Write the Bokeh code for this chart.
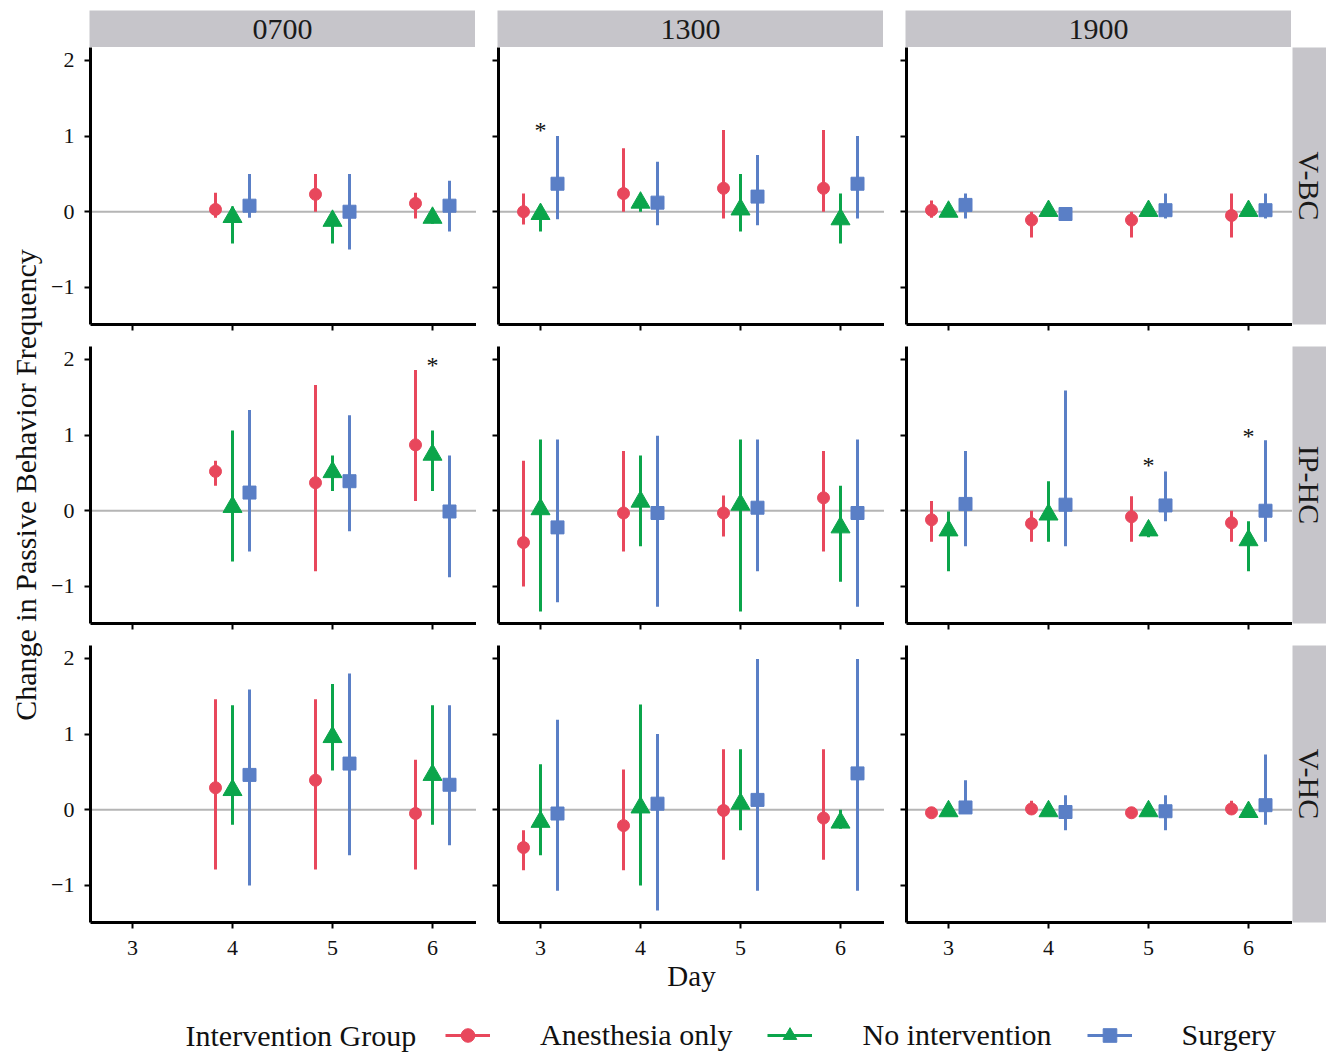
import math
from bokeh.plotting import figure
from bokeh.layouts import column, row
from bokeh.models import Span, FixedTicker, Legend, LegendItem
from bokeh.embed import file_html
from bokeh.resources import INLINE
from bokeh.core.properties import value

# ---------------- data ----------------
TIMES = ["0700", "1300", "1900"]
REGIONS = ["V-BC", "IP-HC", "V-HC"]
GROUPS = ["Anesthesia only", "No intervention", "Surgery"]
X_TICKS = [3, 4, 5, 6]
Y_TICKS = [-1, 0, 1, 2]
Y_TITLE = "Change in Passive Behavior Frequency"
X_TITLE = "Day"
LEGEND_TITLE = "Intervention Group"

# key of each record: region / time / day
region = ["V-BC"] * 11 + ["IP-HC"] * 11 + ["V-HC"] * 11
time = (["0700"] * 3 + ["1300"] * 4 + ["1900"] * 4) * 3
day = ([4, 5, 6] + [3, 4, 5, 6] + [3, 4, 5, 6]) * 3

anes_mean = [0.03, 0.23, 0.11, 0.00, 0.24, 0.31, 0.31, 0.02, -0.11, -0.11, -0.05,
             0.52, 0.37, 0.87, -0.42, -0.03, -0.03, 0.17, -0.12, -0.17, -0.08, -0.16,
             0.29, 0.39, -0.05, -0.50, -0.21, -0.01, -0.11, -0.04, 0.01, -0.04, 0.01]
anes_lo = [-0.08, 0.00, -0.09, -0.17, 0.00, -0.09, 0.00, -0.08, -0.34, -0.34, -0.34,
           0.33, -0.80, 0.13, -1.00, -0.54, -0.34, -0.54, -0.41, -0.41, -0.41, -0.41,
           -0.79, -0.79, -0.79, -0.80, -0.80, -0.66, -0.66, -0.04, -0.03, -0.04, -0.02]
anes_hi = [0.25, 0.50, 0.25, 0.24, 0.84, 1.08, 1.08, 0.15, 0.00, 0.00, 0.24,
           0.66, 1.66, 1.86, 0.66, 0.79, 0.20, 0.79, 0.13, 0.00, 0.19, 0.00,
           1.46, 1.46, 0.66, -0.27, 0.53, 0.80, 0.80, -0.04, 0.12, -0.04, 0.12]

none_mean = [-0.07, -0.12, -0.08, -0.03, 0.12, 0.03, -0.10, 0.00, 0.01, 0.01, 0.01,
             0.05, 0.51, 0.74, 0.02, 0.12, 0.08, -0.22, -0.26, -0.05, -0.26, -0.39,
             0.26, 0.96, 0.46, -0.16, 0.03, 0.08, -0.17, -0.02, -0.02, -0.02, -0.03]
none_lo = [-0.42, -0.42, -0.16, -0.26, 0.00, -0.26, -0.42, 0.00, 0.01, 0.01, 0.01,
           -0.67, 0.26, 0.26, -1.33, -0.47, -1.33, -0.94, -0.80, -0.41, -0.35, -0.80,
           -0.20, 0.52, -0.20, -0.60, -1.00, -0.27, -0.25, -0.02, -0.02, -0.02, -0.03]
none_hi = [0.07, 0.00, 0.00, 0.08, 0.24, 0.50, 0.24, 0.00, 0.01, 0.01, 0.01,
           1.06, 0.73, 1.06, 0.94, 0.73, 0.94, 0.33, -0.01, 0.39, -0.14, -0.14,
           1.38, 1.66, 1.38, 0.60, 1.39, 0.80, 0.00, -0.02, -0.02, -0.02, -0.03]

surg_mean = [0.08, 0.00, 0.08, 0.37, 0.12, 0.20, 0.37, 0.09, -0.03, 0.02, 0.02,
             0.24, 0.39, -0.01, -0.22, -0.03, 0.04, -0.03, 0.09, 0.08, 0.07, 0.00,
             0.46, 0.61, 0.33, -0.05, 0.08, 0.13, 0.48, 0.03, -0.03, -0.02, 0.06]
surg_lo = [-0.08, -0.50, -0.26, -0.10, -0.18, -0.18, -0.09, -0.09, -0.05, -0.09, -0.09,
           -0.54, -0.27, -0.88, -1.21, -1.27, -0.80, -1.27, -0.47, -0.47, -0.14, -0.41,
           -1.00, -0.60, -0.47, -1.07, -1.33, -1.07, -1.07, -0.04, -0.27, -0.27, -0.20]
surg_hi = [0.50, 0.50, 0.41, 1.00, 0.66, 0.75, 1.00, 0.24, -0.01, 0.24, 0.24,
           1.33, 1.26, 0.73, 0.94, 0.99, 0.94, 0.94, 0.79, 1.59, 0.52, 0.93,
           1.59, 1.80, 1.38, 1.19, 1.00, 1.99, 1.99, 0.39, 0.19, 0.19, 0.73]

# significance stars
star_region = ["V-BC", "IP-HC", "IP-HC", "IP-HC"]
star_time = ["1300", "0700", "1900", "1900"]
star_day = [3, 6, 5, 6]
star_y = [1.10, 1.95, 0.63, 1.01]

# ---------------- style ----------------
FONT = "Liberation Serif"
COLORS = ["#e8475c", "#0ba54b", "#5a7fc6"]
MARKERS = ["circle", "triangle", "square"]
MSIZES = [12, 19, 13]
DODGE = [-0.17, 0.0, 0.17]
STRIP_FILL = "#c6c5ca"
FW, FH = 386, 277
XR = (2.58, 6.44)
YR = (-1.49, 2.17)
YLAB_W = 48
BOTTOM_B = 70
TOP_B = 10
STRIP_H = 37
GAP = 22
RSTRIP_W = 34
MAIN_H = TOP_B + STRIP_H + (FH + GAP) * 2 + FH + BOTTOM_B
TOTAL_W = YLAB_W + 41 + FW + (GAP + FW) * 2 + RSTRIP_W

series = [(anes_mean, anes_lo, anes_hi), (none_mean, none_lo, none_hi), (surg_mean, surg_lo, surg_hi)]


def make_panel(ri, ci):
    reg, tm = REGIONS[ri], TIMES[ci]
    p = figure(frame_width=FW, frame_height=FH, x_range=XR, y_range=YR,
               output_backend="svg", toolbar_location=None,
               min_border_left=41 if ci == 0 else GAP, min_border_right=0,
               min_border_top=0, min_border_bottom=BOTTOM_B if ri == 2 else GAP)
    p.outline_line_color = None
    p.grid.visible = False
    p.add_layout(Span(location=0, dimension="width", line_color="#b5b5b5",
                      line_width=2, level="underlay"))
    idx = [i for i in range(len(day)) if region[i] == reg and time[i] == tm]
    for gi, (m, lo, hi) in enumerate(series):
        xs = [day[i] + DODGE[gi] for i in idx]
        p.segment(x0=xs, y0=[lo[i] for i in idx], x1=xs, y1=[hi[i] for i in idx],
                  line_width=3, line_color=COLORS[gi])
        p.scatter(x=xs, y=[m[i] for i in idx], marker=MARKERS[gi], size=MSIZES[gi],
                  fill_color=COLORS[gi], line_color=COLORS[gi])
    sidx = [k for k in range(len(star_day)) if star_region[k] == reg and star_time[k] == tm]
    if sidx:
        p.text(x=[star_day[k] for k in sidx], y=[star_y[k] for k in sidx],
               text=["*"] * len(sidx), text_align="center", text_baseline="middle",
               text_font=value(FONT), text_font_size="24px", text_color="#111111",
               y_offset=2)
    for ax in (p.xaxis[0], p.yaxis[0]):
        ax.axis_line_width = 3
        ax.axis_line_color = "black"
        ax.major_tick_line_width = 2
        ax.major_tick_line_color = "black"
        ax.major_tick_out = 6
        ax.major_tick_in = 0
        ax.minor_tick_line_color = None
        ax.major_label_text_font = FONT
        ax.major_label_text_font_size = "22px"
        ax.major_label_text_color = "#111111"
        ax.axis_label_text_font = FONT
        ax.axis_label_text_font_size = "29px"
        ax.axis_label_text_font_style = "normal"
        ax.axis_label_text_color = "#111111"
    p.xaxis.ticker = FixedTicker(ticks=X_TICKS)
    p.yaxis.ticker = FixedTicker(ticks=Y_TICKS)
    p.yaxis.major_label_overrides = {-1: "\u22121"}
    p.yaxis.major_label_standoff = 10
    p.xaxis.major_label_standoff = 12
    if ci != 0:
        p.yaxis.major_label_overrides = {t: "" for t in Y_TICKS}
        p.yaxis.major_label_text_font_size = "1px"
        p.yaxis.major_label_standoff = 0
    if ri != 2:
        p.xaxis.major_label_overrides = {t: "" for t in X_TICKS}
        p.xaxis.major_label_text_font_size = "1px"
        p.xaxis.major_label_standoff = 0
    if ri == 2 and ci == 1:
        p.xaxis.axis_label = X_TITLE
        p.xaxis.axis_label_standoff = 2
    return p


def make_strip(text, fw, fh, left, top, bottom, angle):
    s = figure(frame_width=fw, frame_height=fh, x_range=(0, 1), y_range=(0, 1),
               x_axis_location=None, y_axis_location=None,
               output_backend="svg", toolbar_location=None,
               min_border_left=left, min_border_right=0,
               min_border_top=top, min_border_bottom=bottom)
    s.outline_line_color = None
    s.grid.visible = False
    s.background_fill_color = STRIP_FILL
    s.text(x=[0.5], y=[0.5], text=[text], angle=angle, text_align="center",
           text_baseline="middle", text_font=value(FONT), text_font_size="30px",
           text_color="#1a1a1a")
    return s


top_row = row([make_strip(TIMES[ci], FW, STRIP_H, 41 if ci == 0 else GAP, TOP_B, 0, 0)
               for ci in range(3)])
panel_rows = []
for ri in range(3):
    kids = [make_panel(ri, ci) for ci in range(3)]
    kids.append(make_strip(REGIONS[ri], RSTRIP_W, FH, 0, 0,
                           BOTTOM_B if ri == 2 else GAP, -math.pi / 2))
    panel_rows.append(row(kids))
main = column([top_row] + panel_rows)

# shared y-axis title (spans all rows, centred on the middle row)
ylab = figure(frame_width=YLAB_W, frame_height=MAIN_H, x_range=(0, YLAB_W), y_range=(0, MAIN_H),
              x_axis_location=None, y_axis_location=None,
              output_backend="svg", toolbar_location=None,
              min_border_left=0, min_border_right=0, min_border_top=0, min_border_bottom=0)
ylab.outline_line_color = None
ylab.grid.visible = False
mid_row_center_from_bottom = BOTTOM_B + FH + GAP + FH / 2
ylab.text(x=[25], y=[mid_row_center_from_bottom], text=[Y_TITLE], angle=math.pi / 2,
          text_align="center", text_baseline="middle", text_font=value(FONT),
          text_font_size="30px", text_color="#111111")

# legend figure
LW, LH = TOTAL_W, 58
lf = figure(frame_width=LW, frame_height=LH, x_range=(0, LW), y_range=(0, LH),
            x_axis_location=None, y_axis_location=None,
            output_backend="svg", toolbar_location=None,
            min_border_left=0, min_border_right=0, min_border_top=0, min_border_bottom=0)
lf.outline_line_color = None
lf.grid.visible = False
lf.text(x=[185], y=[17], text=[LEGEND_TITLE], text_align="left",
        text_baseline="middle", text_font=value(FONT), text_font_size="30px",
        text_color="#111111")
items = []
nan = float("nan")
for gi, g in enumerate(GROUPS):
    r1 = lf.segment(x0=[nan], y0=[nan], x1=[nan], y1=[nan], line_width=3, line_color=COLORS[gi])
    r2 = lf.scatter(x=[nan], y=[nan], marker=MARKERS[gi], size=MSIZES[gi],
                    fill_color=COLORS[gi], line_color=COLORS[gi])
    items.append(LegendItem(label=g, renderers=[r1, r2]))
legend = Legend(items=items, orientation="horizontal", location=(445, 0),
                glyph_width=45, glyph_height=34, label_height=34,
                label_standoff=50, spacing=35, padding=0, margin=0,
                border_line_color=None, background_fill_alpha=0,
                label_text_font=FONT, label_text_font_size="30px",
                label_text_color="#111111")
lf.add_layout(legend, "center")

layout = column(row(ylab, main), lf)

open("out.html", "w").write(file_html(layout, INLINE))
